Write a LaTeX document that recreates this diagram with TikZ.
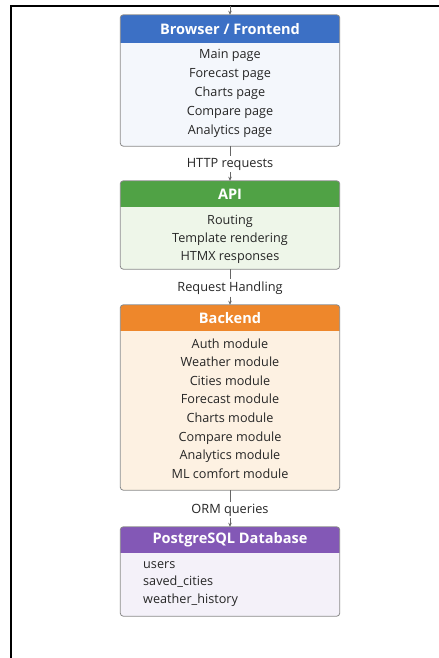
\documentclass[tikz,border=0pt]{standalone}
\usepackage{fontspec}
\setmainfont{Open Sans}
\usetikzlibrary{calc,arrows.meta}
\definecolor{hblue}{HTML}{3C70C5}
\definecolor{bblue}{HTML}{F4F7FC}
\definecolor{hgreen}{HTML}{50A245}
\definecolor{bgreen}{HTML}{EEF6E9}
\definecolor{horange}{HTML}{EE872B}
\definecolor{borange}{HTML}{FDF1E2}
\definecolor{hpurple}{HTML}{8358B6}
\definecolor{bpurple}{HTML}{F4F1F9}
\definecolor{edgegray}{HTML}{8A8A8A}
\definecolor{txt}{HTML}{262626}
\begin{document}
\begin{tikzpicture}[x=1bp,y=-1bp,
  blockbox/.style={rounded corners=3bp, minimum width=219bp, inner sep=0pt},
  headtxt/.style={text=white, font=\fontsize{14.6}{17}\selectfont\bfseries, inner sep=0pt},
  bodytxt/.style={text=txt, align=center, inner sep=0pt},
  lbl/.style={text=txt, font=\fontsize{12.8}{15}\selectfont, inner sep=2bp},
  conn/.style={draw=black!60, line width=0.8bp},
  arr/.style={conn, -{Stealth[length=4bp,width=3.5bp]}}
]
\useasboundingbox (0,0) rectangle (439,658);
\fill[white] (0,0) rectangle (439,658);
% frame
\draw[black, line width=1.8bp] (11,658) -- (11,6) -- (439,6);
\coordinate (top) at (230,6);

% ---------- Browser / Frontend
\node[blockbox, fill=bblue, minimum height=131bp] (b1) at (230,80.5) {};
\begin{scope}
\clip[rounded corners=3bp] (b1.north west) rectangle (b1.south east);
\fill[hblue] (b1.north west) rectangle ($(b1.north east)+(0,28)$);
\end{scope}
\draw[edgegray, line width=0.8bp, rounded corners=3bp] (b1.north west) rectangle (b1.south east);
\node[headtxt] (h1) at ($(b1.north)+(0,14)$) {Browser / Frontend};
\node[bodytxt, font=\fontsize{12.7}{19}\selectfont] (t1) at (230,93.5) {Main page\\Forecast page\\Charts page\\Compare page\\Analytics page};

% ---------- API
\node[blockbox, fill=bgreen, minimum height=88bp] (b2) at (230,225) {};
\begin{scope}
\clip[rounded corners=3bp] (b2.north west) rectangle (b2.south east);
\fill[hgreen] (b2.north west) rectangle ($(b2.north east)+(0,26)$);
\end{scope}
\draw[edgegray, line width=0.8bp, rounded corners=3bp] (b2.north west) rectangle (b2.south east);
\node[headtxt] (h2) at ($(b2.north)+(0,13)$) {API};
\node[bodytxt, font=\fontsize{12.7}{18}\selectfont] (t2) at (230,239) {Routing\\Template rendering\\HTMX responses};

% ---------- Backend
\node[blockbox, fill=borange, minimum height=185bp] (b3) at (230,397.5) {};
\begin{scope}
\clip[rounded corners=3bp] (b3.north west) rectangle (b3.south east);
\fill[horange] (b3.north west) rectangle ($(b3.north east)+(0,26)$);
\end{scope}
\draw[edgegray, line width=0.8bp, rounded corners=3bp] (b3.north west) rectangle (b3.south east);
\node[headtxt] (h3) at ($(b3.north)+(0,13)$) {Backend};
\node[bodytxt, font=\fontsize{12.7}{18.7}\selectfont] (t3) at (230,408.5) {Auth module\\Weather module\\Cities module\\Forecast module\\Charts module\\Compare module\\Analytics module\\ML comfort module};

% ---------- PostgreSQL Database
\node[blockbox, fill=bpurple, minimum height=89bp] (b4) at (230,571.5) {};
\begin{scope}
\clip[rounded corners=3bp] (b4.north west) rectangle (b4.south east);
\fill[hpurple] (b4.north west) rectangle ($(b4.north east)+(0,26)$);
\end{scope}
\draw[edgegray, line width=0.8bp, rounded corners=3bp] (b4.north west) rectangle (b4.south east);
\node[headtxt] (h4) at ($(b4.north)+(0,13)$) {PostgreSQL Database};
\node[bodytxt, align=left, anchor=west, font=\fontsize{12.7}{18}\selectfont] (t4) at (143,584) {users\\saved\_cities\\weather\_history};

% ---------- connectors
\draw[arr] (top) -- (b1.north);
\node[lbl] (l1) at (230,164) {HTTP requests};
\draw[conn] (b1.south) -- (l1.north);
\draw[arr] (l1.south) -- (b2.north);
\node[lbl] (l2) at (230,288) {Request Handling};
\draw[conn] (b2.south) -- (l2.north);
\draw[arr] (l2.south) -- (b3.north);
\node[lbl] (l3) at (230,510) {ORM queries};
\draw[conn] (b3.south) -- (l3.north);
\draw[arr] (l3.south) -- (b4.north);
\end{tikzpicture}
\end{document}
